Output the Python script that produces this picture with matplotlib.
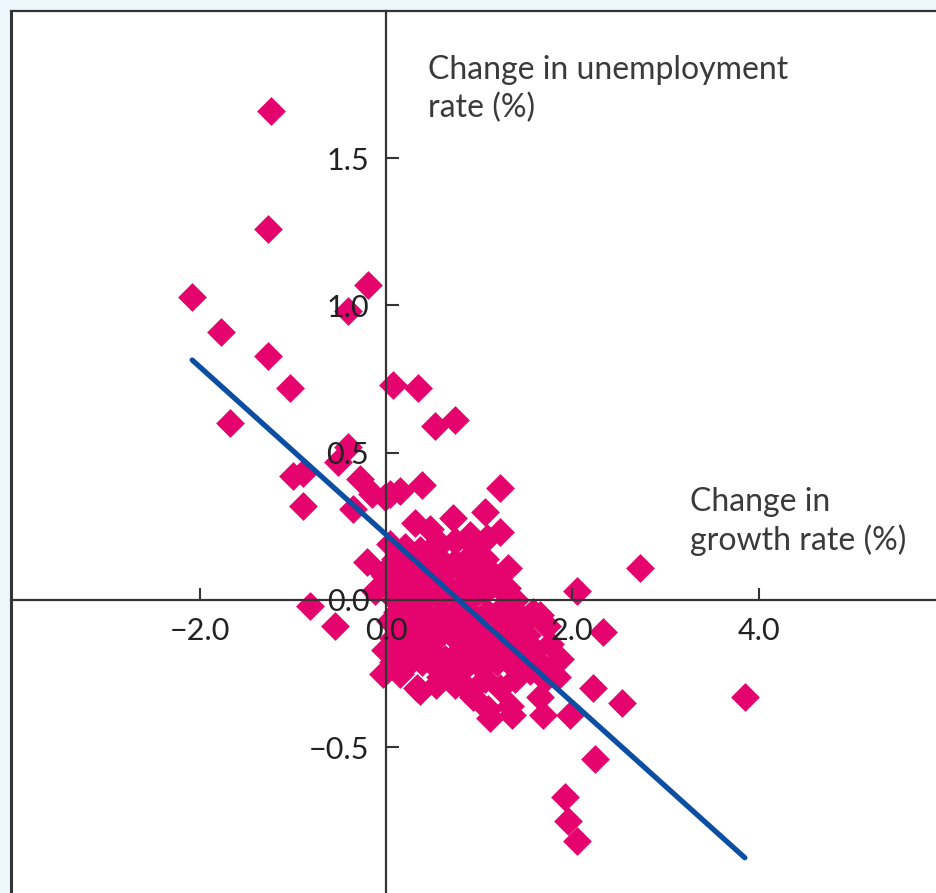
import matplotlib
matplotlib.use("Agg")
import matplotlib.pyplot as plt
import numpy as np

plt.rcParams['font.family'] = ['Lato', 'DejaVu Sans']

# change in growth rate (%) and change in unemployment rate (%)
growth = [
    -1.23, -1.27, -2.08, -0.19, -0.41, -1.77, -1.27, -1.03, -1.67, 0.07,
    0.34, 0.53, 0.74, -0.41, -1.00, -0.89, -0.52, -0.89, -0.28, -0.15,
    -0.35, 0.04, 0.15, 0.39, 1.22, -0.20, -0.82, -0.55, 2.73, 2.05,
    2.33, 2.22, 2.53, 3.85, 2.24, 1.92, 1.95, 2.05, 1.97, 1.68,
    1.35, -0.01, -0.12, -0.03,
    0.31, 0.47, 0.72, 0.90, 1.06, 1.22, 1.08,
    0.04, 0.20, 0.36, 0.58, 0.74, 0.95, 0.50,
    0.10, 0.26, 0.42, 0.58, 0.74, 0.90, 1.06,
    -0.01, 0.15, 0.31, 0.47, 0.63, 0.79, 0.95, 1.12, 1.31,
    0.02, 0.18, 0.34, 0.50, 0.66, 0.82, 0.98, 1.14, 1.30,
    0.10, 0.26, 0.42, 0.58, 0.74, 0.90, 1.06, 1.22, 1.38, 1.58, 1.73,
    0.12, 0.28, 0.44, 0.60, 0.76, 0.92, 1.08, 1.24, 1.40,
    0.04, 0.20, 0.36, 0.53, 0.69, 0.85, 1.01, 1.17, 1.33, 1.49, 1.65,
    0.07, 0.23, 0.39, 0.55, 0.71, 0.87, 1.03, 1.19, 1.35, 1.51,
    -0.01, 0.15, 0.31, 0.47, 0.63, 0.79, 0.95, 1.12, 1.28, 1.44, 1.60, 1.76, 1.87,
    0.07, 0.23, 0.39, 0.55, 0.71, 0.87, 1.03, 1.19, 1.35, 1.51, 1.67,
    -0.03, 0.15, 0.33, 0.58, 0.74, 0.90, 1.06, 1.22, 1.38, 1.55, 1.71, 1.83,
    0.36, 0.54, 0.79, 0.93, 1.12, 1.33, 1.65, 1.09,
]
unemp = [
    1.66, 1.26, 1.03, 1.07, 0.98, 0.91, 0.83, 0.72, 0.60, 0.73,
    0.72, 0.59, 0.61, 0.52, 0.42, 0.43, 0.47, 0.32, 0.41, 0.36,
    0.31, 0.36, 0.37, 0.39, 0.38, 0.13, -0.02, -0.09, 0.11, 0.03,
    -0.11, -0.30, -0.35, -0.33, -0.54, -0.67, -0.75, -0.82, -0.39, -0.39,
    -0.39, 0.35, 0.03, 0.09,
    0.26, 0.24, 0.28, 0.22, 0.30, 0.23, 0.21,
    0.19, 0.18, 0.17, 0.19, 0.20, 0.18, 0.18,
    0.14, 0.13, 0.15, 0.14, 0.13, 0.15, 0.14,
    0.08, 0.10, 0.09, 0.10, 0.09, 0.11, 0.08, 0.10, 0.11,
    0.05, 0.04, 0.06, 0.05, 0.04, 0.05, 0.06, 0.05, 0.04,
    0.00, 0.02, 0.00, 0.01, 0.02, 0.00, 0.03, 0.04, 0.00, -0.04, -0.09,
    -0.04, -0.03, -0.05, -0.04, -0.03, -0.05, -0.04, -0.03, -0.04,
    -0.07, -0.09, -0.08, -0.10, -0.08, -0.07, -0.10, -0.05, -0.08, -0.07, -0.05,
    -0.13, -0.12, -0.14, -0.13, -0.12, -0.14, -0.13, -0.12, -0.13, -0.12,
    -0.17, -0.15, -0.19, -0.17, -0.20, -0.17, -0.20, -0.17, -0.15, -0.19, -0.17, -0.15, -0.20,
    -0.21, -0.22, -0.21, -0.23, -0.21, -0.22, -0.23, -0.21, -0.22, -0.21, -0.22,
    -0.25, -0.25, -0.30, -0.26, -0.29, -0.31, -0.27, -0.30, -0.27, -0.24, -0.27, -0.26,
    -0.31, -0.29, -0.28, -0.33, -0.40, -0.36, -0.33, -0.37,
]

# fitted line: intercept and slope, drawn over this growth range
fit_intercept = 0.222
fit_slope = -0.285
fit_range = [-2.08, 3.85]

x_ticks = [-2.0, 0.0, 2.0, 4.0]
x_tick_labels = ['\u22122.0', '0.0', '2.0', '4.0']
y_ticks = [-0.5, 0.0, 0.5, 1.0, 1.5]
y_tick_labels = ['\u22120.5', '0.0', '0.5', '1.0', '1.5']

pink = '#e5036e'
blue = '#0b4ea2'
ink = '#333333'

fig = plt.figure(figsize=(9.37, 8.93), dpi=100, facecolor='#eef8fc')
ax = fig.add_axes([11 / 937, 0, 1 - 11 / 937, 882 / 893])
ax.set_facecolor('white')
ax.set_xlim(-4.024, 5.912)
ax.set_ylim(-0.995, 2.0)
# tick labels sit on top of the markers
ax.set_axisbelow(False)

ax.scatter(growth, unemp, marker='D', s=215, c=pink, linewidths=0, zorder=2)

fx = np.array(fit_range)
ax.plot(fx, fit_intercept + fit_slope * fx, color=blue, lw=3.8,
        solid_capstyle='round', zorder=3)

# axes cross at the origin
ax.spines['left'].set_position(('data', 0))
ax.spines['bottom'].set_position(('data', 0))
ax.spines['right'].set_visible(False)
for side in ('left', 'bottom', 'top'):
    ax.spines[side].set_color(ink)
    ax.spines[side].set_linewidth(1.6)
ax.plot([0, 0], [0, 1], transform=ax.transAxes, color=ink, lw=2.2,
        clip_on=False)

ax.set_xticks(x_ticks, x_tick_labels)
ax.set_yticks(y_ticks, y_tick_labels)
ax.tick_params(direction='in', length=9, width=1.5, color=ink,
               labelcolor='#222222', labelsize=22)
ax.tick_params(axis='x', pad=12)
ax.tick_params(axis='y', pad=12)

ax.text(0.45, 1.85, 'Change in unemployment\nrate (%)', fontsize=23,
        color='#3a3a3a', ha='left', va='top', linespacing=1.3)
ax.text(3.26, 0.385, 'Change in\ngrowth rate (%)', fontsize=23,
        color='#3a3a3a', ha='left', va='top', linespacing=1.3)

fig.savefig('out.png', dpi=100, facecolor=fig.get_facecolor())
